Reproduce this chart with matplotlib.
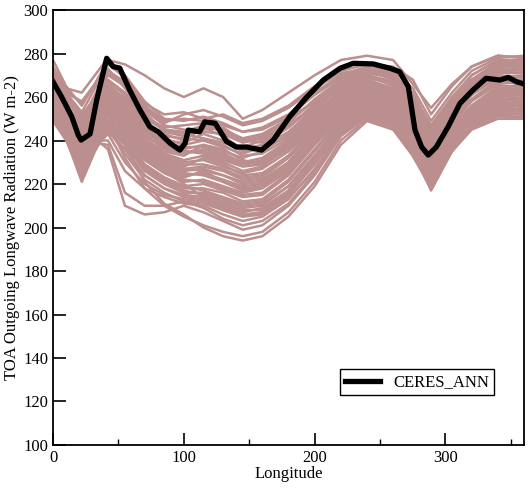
import numpy as np
import matplotlib
matplotlib.use("Agg")
import matplotlib.pyplot as plt
from matplotlib.ticker import MultipleLocator

plt.rcParams['font.family'] = ['Liberation Serif', 'DejaVu Serif']

# longitudes at which ensemble members are sampled
lon = [0, 10, 22, 32, 42, 55, 70, 85, 100, 115, 130, 145, 160, 180,
       200, 220, 240, 260, 275, 289, 305, 320, 340, 360]

# model ensemble members (W m-2)
members = [
    [277, 265, 256, 266, 276, 270, 258, 250, 249, 251, 248, 244, 246, 252, 262, 270, 274, 272, 264, 249, 262, 272, 278, 279],
    [274, 264, 262, 270, 278, 268, 255, 248, 252, 254, 251, 247, 249, 255, 264, 271, 273, 270, 262, 246, 259, 270, 277, 277],
    [271, 262, 253, 264, 272, 267, 257, 252, 253, 250, 252, 248, 250, 256, 265, 272, 275, 274, 268, 252, 265, 274, 279, 278],
    [270, 260, 250, 261, 273, 264, 252, 245, 244, 247, 244, 240, 242, 249, 258, 267, 272, 270, 260, 246, 258, 268, 276, 276],
    [268, 261, 252, 259, 268, 262, 251, 246, 247, 248, 245, 241, 243, 250, 258, 266, 270, 267, 257, 243, 255, 266, 274, 275],
    [267, 257, 247, 258, 270, 265, 253, 244, 242, 245, 246, 240, 239, 246, 256, 266, 271, 269, 259, 245, 257, 267, 275, 274],
    [266, 258, 245, 256, 266, 259, 248, 243, 240, 246, 242, 236, 238, 246, 257, 268, 272, 268, 256, 242, 254, 265, 272, 273],
    [265, 256, 248, 255, 264, 260, 249, 241, 238, 240, 237, 234, 237, 244, 255, 264, 269, 266, 256, 244, 256, 266, 273, 272],
    [265, 255, 243, 254, 266, 256, 246, 240, 239, 243, 240, 235, 236, 242, 253, 262, 268, 264, 254, 240, 252, 263, 271, 271],
    [264, 257, 244, 253, 262, 255, 244, 238, 236, 238, 235, 232, 235, 243, 254, 265, 270, 265, 253, 238, 250, 261, 269, 270],
    [263, 254, 242, 252, 263, 257, 245, 239, 237, 237, 234, 230, 232, 240, 252, 262, 267, 263, 252, 239, 251, 262, 270, 269],
    [262, 253, 240, 250, 261, 254, 243, 236, 234, 236, 233, 229, 231, 239, 251, 261, 266, 262, 251, 237, 249, 259, 267, 268],
    [261, 252, 241, 251, 260, 252, 241, 235, 233, 238, 236, 231, 229, 236, 248, 259, 265, 261, 250, 236, 248, 258, 266, 267],
    [260, 251, 238, 249, 259, 251, 240, 234, 231, 233, 230, 226, 228, 237, 249, 260, 266, 262, 249, 235, 247, 256, 264, 266],
    [260, 250, 236, 248, 258, 250, 239, 233, 230, 231, 228, 225, 227, 235, 247, 258, 264, 260, 248, 234, 246, 256, 265, 265],
    [259, 251, 235, 246, 257, 249, 237, 231, 228, 232, 229, 224, 225, 233, 246, 257, 263, 259, 247, 233, 245, 254, 263, 264],
    [258, 249, 234, 247, 256, 248, 236, 230, 227, 228, 226, 222, 223, 232, 245, 256, 262, 258, 246, 232, 244, 255, 262, 263],
    [257, 248, 232, 245, 255, 247, 235, 229, 226, 227, 224, 221, 222, 230, 244, 256, 262, 257, 245, 231, 243, 253, 261, 262],
    [256, 247, 230, 243, 253, 245, 233, 227, 224, 225, 222, 219, 220, 229, 243, 255, 261, 257, 245, 230, 242, 252, 260, 261],
    [255, 246, 229, 242, 252, 244, 232, 226, 223, 226, 221, 217, 219, 227, 241, 253, 260, 256, 243, 229, 241, 251, 259, 260],
    [254, 245, 227, 241, 251, 243, 231, 225, 221, 222, 219, 216, 218, 226, 240, 252, 259, 255, 242, 228, 240, 250, 258, 259],
    [253, 244, 225, 239, 249, 242, 229, 223, 219, 220, 217, 214, 215, 224, 238, 251, 258, 254, 241, 227, 239, 249, 257, 258],
    [252, 243, 223, 237, 248, 240, 228, 222, 218, 218, 216, 212, 213, 222, 236, 250, 258, 253, 240, 226, 238, 248, 256, 257],
    [250, 241, 221, 235, 246, 238, 226, 220, 216, 216, 213, 210, 211, 219, 233, 248, 256, 252, 239, 225, 237, 247, 255, 256],
    [249, 240, 224, 236, 244, 236, 224, 218, 214, 213, 210, 207, 209, 217, 231, 246, 255, 251, 238, 224, 237, 248, 254, 255],
    [251, 242, 228, 238, 245, 234, 222, 216, 212, 211, 208, 205, 207, 215, 229, 245, 254, 250, 237, 223, 236, 246, 253, 254],
    [252, 244, 232, 240, 240, 226, 218, 214, 211, 210, 206, 203, 205, 213, 227, 244, 253, 249, 236, 222, 238, 248, 254, 253],
    [255, 246, 235, 239, 238, 216, 210, 210, 212, 209, 204, 201, 203, 211, 225, 243, 252, 248, 235, 221, 236, 247, 252, 252],
    [257, 248, 238, 241, 236, 210, 206, 207, 210, 207, 203, 199, 201, 210, 224, 242, 251, 247, 234, 220, 235, 246, 251, 251],
    [253, 245, 233, 242, 248, 232, 218, 210, 205, 201, 198, 196, 198, 207, 221, 240, 250, 246, 233, 219, 236, 246, 252, 250],
    [256, 247, 236, 246, 251, 238, 221, 211, 206, 200, 196, 194, 196, 205, 219, 238, 249, 245, 233, 218, 237, 247, 253, 252],
    [258, 248, 238, 246, 254, 246, 234, 226, 220, 214, 208, 205, 206, 214, 226, 243, 252, 248, 235, 217, 235, 245, 250, 250],
    [270, 262, 258, 266, 277, 275, 270, 264, 260, 264, 260, 250, 254, 262, 270, 277, 279, 277, 266, 255, 266, 274, 279, 278],
    [272, 263, 257, 266, 275, 269, 256, 249, 250, 249, 247, 244, 245, 251, 261, 269, 273, 271, 261, 247, 260, 270, 277, 277],
    [269, 259, 249, 259, 271, 266, 254, 247, 245, 244, 243, 239, 241, 248, 259, 268, 273, 269, 258, 244, 257, 268, 275, 276],
    [267, 260, 251, 257, 267, 261, 250, 245, 243, 241, 239, 237, 240, 247, 256, 265, 270, 267, 258, 243, 256, 266, 274, 273],
    [264, 256, 246, 256, 265, 258, 247, 242, 241, 240, 238, 233, 234, 241, 253, 263, 269, 266, 255, 241, 253, 264, 272, 271],
    [263, 255, 244, 252, 264, 256, 245, 237, 235, 235, 232, 229, 230, 238, 250, 261, 267, 263, 252, 238, 250, 261, 269, 269],
    [261, 253, 239, 250, 261, 253, 242, 237, 235, 234, 231, 228, 229, 237, 249, 259, 265, 262, 251, 237, 249, 259, 268, 267],
    [259, 250, 237, 248, 257, 250, 238, 232, 229, 229, 227, 223, 224, 233, 246, 257, 263, 259, 247, 233, 245, 255, 264, 264],
    [257, 249, 233, 245, 256, 248, 236, 230, 227, 226, 224, 220, 221, 230, 244, 255, 262, 258, 246, 232, 244, 254, 262, 263],
    [256, 246, 231, 244, 254, 246, 234, 228, 225, 224, 221, 218, 219, 228, 242, 254, 261, 256, 244, 230, 242, 252, 261, 261],
    [254, 246, 228, 240, 251, 244, 232, 226, 222, 221, 218, 215, 216, 225, 239, 252, 259, 255, 243, 229, 241, 251, 259, 259],
    [252, 243, 226, 239, 249, 241, 229, 223, 219, 217, 214, 211, 212, 221, 235, 249, 257, 253, 241, 227, 239, 249, 257, 257],
    [251, 242, 223, 237, 247, 239, 227, 221, 217, 215, 212, 209, 210, 219, 233, 247, 256, 252, 240, 226, 238, 248, 256, 256],
    [253, 244, 230, 237, 243, 230, 220, 215, 213, 212, 209, 206, 207, 216, 230, 246, 255, 250, 238, 224, 238, 248, 255, 254],
    [250, 241, 222, 236, 245, 236, 224, 218, 215, 214, 211, 208, 208, 217, 232, 248, 256, 251, 239, 225, 236, 247, 254, 253],
]

# CERES annual mean observation
ceres_lon = [0, 6.6, 14.3, 19.3, 21.5, 28.3, 33.4, 41, 45.9, 51, 58.6, 66.5, 74,
             80.5, 89.4, 97, 100.9, 103.4, 112, 116, 124, 132.7, 140, 147.8,
             159.5, 168.4, 181, 194, 206.6, 219.4, 229.5, 244.8, 257.6, 265,
             271.6, 276.7, 281.8, 286.8, 293, 302, 311, 321, 331, 341.5, 348,
             354.4, 360]
ceres_olr = [267, 260, 251, 242.5, 240.2, 243, 258.6, 277.8, 274, 273.3, 263.2,
             254, 246.3, 244, 238.8, 235.6, 238.7, 244.8, 244, 248.6, 247.9,
             239.5, 237, 237, 235.6, 240.2, 251, 260, 267.8, 273.2, 275.5,
             275.2, 273.2, 271.6, 264.7, 244.8, 237, 233.3, 237, 246.3, 257,
             263.2, 268.6, 267.8, 269, 267, 266]

fig = plt.figure(figsize=(5.29, 4.91), dpi=100)
ax = fig.add_axes([0.1002, 0.0937, 0.8903, 0.8859])

for m in members:
    ax.plot(lon, m, color='#bc8f8f', lw=1.8, solid_joinstyle='round')

ax.plot(ceres_lon, ceres_olr, color='black', lw=3.8, label='CERES_ANN',
        solid_joinstyle='round')

ax.set_xlim(0, 360)
ax.set_ylim(100, 300)
ax.xaxis.set_major_locator(MultipleLocator(100))
ax.xaxis.set_minor_locator(MultipleLocator(50))
ax.yaxis.set_major_locator(MultipleLocator(20))
ax.tick_params(which='major', direction='in', length=9, width=1.2,
               labelsize=12, top=False, right=False)
ax.tick_params(which='minor', direction='in', length=4.5, width=1.0,
               top=False, right=False)
for s in ax.spines.values():
    s.set_linewidth(1.3)

ax.set_xlabel('Longitude', fontsize=12, labelpad=0)
ax.set_ylabel('TOA Outgoing Longwave Radiation (W m-2)', fontsize=12,
              labelpad=2)

leg = ax.legend(loc='lower right', bbox_to_anchor=(0.955, 0.095),
                fontsize=12, handlelength=2.1, fancybox=False,
                framealpha=1, edgecolor='black', borderpad=0.3)
leg.get_frame().set_linewidth(1.0)

fig.savefig('out.png', dpi=100)
